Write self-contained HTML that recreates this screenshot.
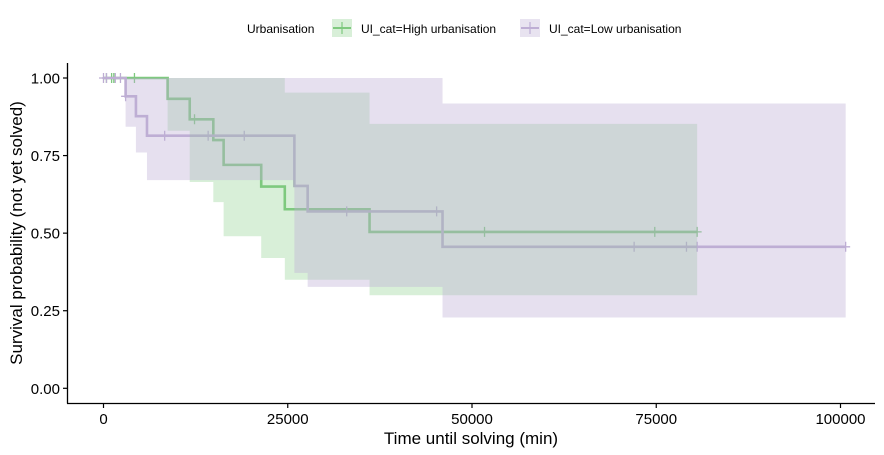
<!DOCTYPE html>
<html><head><meta charset="utf-8"><style>
body{margin:0;background:#fff}
svg{display:block;font-family:"Liberation Sans",Arial,sans-serif}
</style></head><body>
<svg id="chart" width="884" height="455" viewBox="0 0 884 455">
<g id="legend">
 <text x="247" y="33" font-size="12">Urbanisation</text>
 <g>
  <rect x="332" y="19" width="20" height="18" fill="#7FC97F" fill-opacity="0.3"/>
  <line x1="333" y1="28" x2="351" y2="28" stroke="#7FC97F" stroke-width="2"/>
  <line x1="342" y1="22" x2="342" y2="34" stroke="#7FC97F" stroke-width="1.2"/>
  <text x="361" y="33" font-size="12">UI_cat=High urbanisation</text>
 </g>
 <g>
  <rect x="520" y="19" width="20" height="18" fill="#BEAED4" fill-opacity="0.35"/>
  <line x1="521" y1="28" x2="539" y2="28" stroke="#BEAED4" stroke-width="2"/>
  <line x1="530" y1="22" x2="530" y2="34" stroke="#BEAED4" stroke-width="1.2"/>
  <text x="549" y="33" font-size="12">UI_cat=Low urbanisation</text>
 </g>
</g>
<g id="plot"></g>
<g id="axes"></g>
<text x="471" y="444" font-size="17" text-anchor="middle">Time until solving (min)</text>
<text transform="translate(22,233) rotate(-90)" font-size="17" text-anchor="middle">Survival probability (not yet solved)</text>
</svg>
<script>
const xTicks=[0,25000,50000,75000,100000];
const yTicks=[0,0.25,0.5,0.75,1];
const yTickLabels=["0.00","0.25","0.50","0.75","1.00"];
// High urbanisation
const hiTimes=[0,8700,11700,14900,16300,21400,24600,36100];
const hiSurv=[1,0.933,0.867,0.8,0.72,0.65,0.577,0.504];
const hiUpper=[1,1,1,1,1,1,0.953,0.852];
const hiLower=[1,0.83,0.665,0.6,0.49,0.42,0.35,0.30];
const hiEnd=80550;
const hiCensor=[400,1100,1400,4200,12350,51700,74800,80550];
// Low urbanisation
const loTimes=[0,3000,4400,5900,25900,27700,46000];
const loSurv=[1,0.941,0.877,0.814,0.652,0.57,0.456];
const loUpper=[1,1,1,1,1,1,0.918];
const loLower=[1,0.843,0.76,0.671,0.372,0.327,0.228];
const loEnd=100700;
const loCensor=[0,400,1600,2300,3000,8300,14200,19100,33000,45200,72000,79100,80550,100700];

const NS="http://www.w3.org/2000/svg";
const X=t=>103.5+t*0.00737;
const Y=s=>388.3-310.3*s;
function mk(tag,attrs,parent){const e=document.createElementNS(NS,tag);for(const k in attrs)e.setAttribute(k,attrs[k]);parent.appendChild(e);return e;}
const plot=document.getElementById('plot'), axes=document.getElementById('axes');
function stepVal(times,vals,t){let v=vals[0];for(let i=0;i<times.length;i++){if(times[i]<=t)v=vals[i];}return v;}
function linePath(times,surv,end){let d=`M${X(times[0])},${Y(surv[0])}`;for(let i=1;i<times.length;i++){d+=`H${X(times[i])}V${Y(surv[i])}`;}d+=`H${X(end)}`;return d;}
function ribbonPath(times,up,lo,end){let d=`M${X(times[0])},${Y(up[0])}`;for(let i=1;i<times.length;i++){d+=`H${X(times[i])}V${Y(up[i])}`;}d+=`H${X(end)}V${Y(lo[lo.length-1])}`;for(let i=times.length-1;i>0;i--){d+=`H${X(times[i])}V${Y(lo[i-1])}`;}d+=`H${X(times[0])}Z`;return d;}
function series(name,times,surv,up,lo,end,cens,col,op){
 const l=mk('path',{d:linePath(times,surv,end),fill:'none',stroke:col,'stroke-width':2.6},plot);
 
 
 cens.forEach(t=>{const s=stepVal(times,surv,t);const c=mk('path',{d:`M${X(t)-4.5},${Y(s)}H${X(t)+4.5}M${X(t)},${Y(s)-5}V${Y(s)+5}`,stroke:col,'stroke-width':1.3},plot);
  
  });
 return ()=>{const r=mk('path',{d:ribbonPath(times,up,lo,end),fill:col,'fill-opacity':op,stroke:'none'},plot);
  
  };
}
const rh=series('high',hiTimes,hiSurv,hiUpper,hiLower,hiEnd,hiCensor,'#7FC97F',0.3);
const rl=series('low',loTimes,loSurv,loUpper,loLower,loEnd,loCensor,'#BEAED4',0.38);
rh();rl();
// axes
const ya=mk('line',{x1:67.5,y1:63,x2:67.5,y2:403.5,stroke:'#000','stroke-width':1.3},axes);


const xa=mk('line',{x1:67,y1:403.5,x2:875,y2:403.5,stroke:'#000','stroke-width':1.3},axes);


yTicks.forEach((v,i)=>{mk('line',{x1:63,x2:67.5,y1:Y(v),y2:Y(v),stroke:'#000','stroke-width':1.2},axes);
 const t=mk('text',{x:60,y:Y(v)+5.5,'font-size':15,'text-anchor':'end'},axes);t.textContent=yTickLabels[i];
 
 });
xTicks.forEach(v=>{mk('line',{x1:X(v),x2:X(v),y1:403.5,y2:408,stroke:'#000','stroke-width':1.2},axes);
 const t=mk('text',{x:X(v),y:424,'font-size':15,'text-anchor':'middle'},axes);t.textContent=String(v);
 
 });
</script>
</body></html>
